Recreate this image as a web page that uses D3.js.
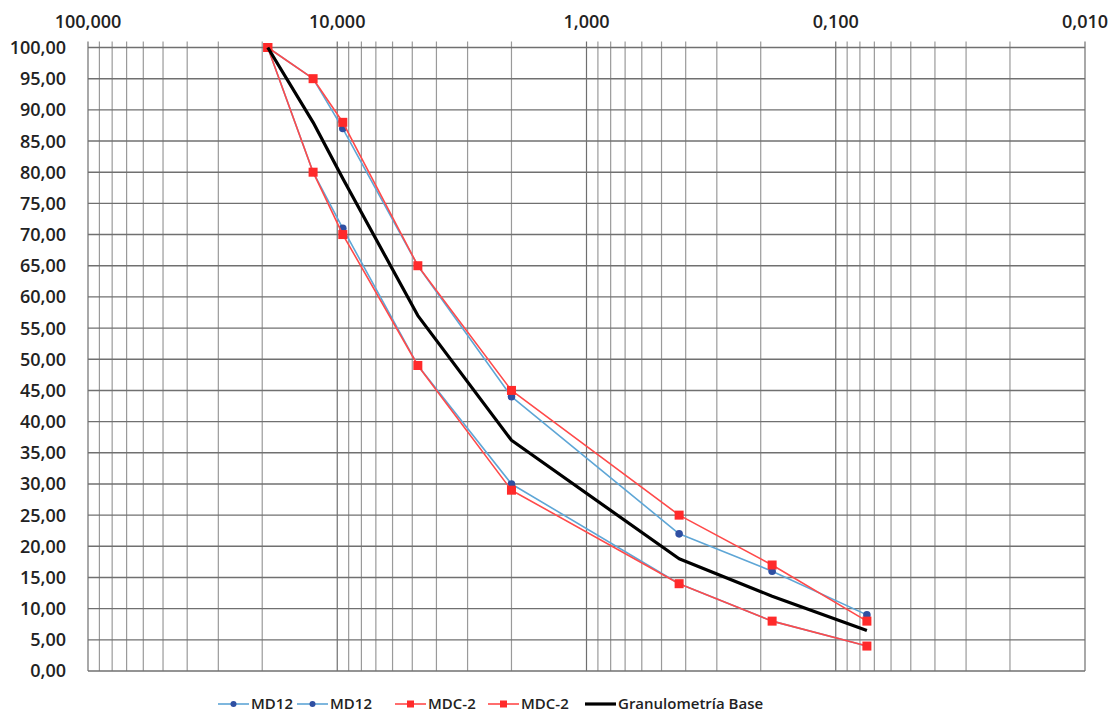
<!DOCTYPE html>
<html>
<head>
<meta charset="utf-8">
<script src="https://cdn.jsdelivr.net/npm/d3@7"></script>
<style>
  body { margin: 0; background: #ffffff; font-family: "Open Sans", sans-serif; }
</style>
</head>
<body>
<svg id="chart"></svg>
<script>
// sieve openings (mm)
const sizes = [19.0, 12.5, 9.5, 4.75, 2.0, 0.425, 0.18, 0.075];

// % passing
const md12Upper = [100, 95, 87, 65, 44, 22, 16, 9];
const md12Lower = [100, 80, 71, 49, 30, 14, 8, 4];
const mdcUpper = [100, 95, 88, 65, 45, 25, 17, 8];
const mdcLower = [100, 80, 70, 49, 29, 14, 8, 4];
const baseGrad = [100, 88, 79, 57, 37, 18, 12, 6.5];

const seriesNames = ["MD12", "MD12", "MDC-2", "MDC-2", "Granulometría Base"];
const xTickLabels = [100, 10, 1, 0.1, 0.01];
const yTicks = d3.range(0, 101, 5);

const W = 1117, H = 719;
const margin = { top: 47.5, right: 32, bottom: 48, left: 88 };

const svg = d3.select("#chart").attr("width", W).attr("height", H);

const locale = d3.formatLocale({ decimal: ",", thousands: ".", grouping: [3], currency: ["", ""] });
const fx = locale.format(".3f");
const fy = locale.format(".2f");

const x = d3.scaleLog().domain([100, 0.01]).range([margin.left, W - margin.right]);
const y = d3.scaleLinear().domain([0, 100]).range([H - margin.bottom, margin.top]);

// minor log grid: 1..9 of every decade
const gridX = [];
xTickLabels.slice(1).forEach(d => {
  for (let k = 1; k <= 9; k++) gridX.push(d * k);
});
gridX.push(100);

const grid = svg.append("g");
grid.selectAll("line.v")
  .data(gridX)
  .enter().append("line")
    .attr("x1", d => x(d)).attr("x2", d => x(d))
    .attr("y1", margin.top - 6).attr("y2", y(0))
    .attr("stroke", d => xTickLabels.some(t => Math.abs(t - d) < 1e-9) ? "#6f6f6f" : "#9a9a9a")
    .attr("stroke-width", 1.2);

grid.selectAll("line.h")
  .data(yTicks)
  .enter().append("line")
    .attr("x1", x(100)).attr("x2", x(0.01))
    .attr("y1", d => y(d)).attr("y2", d => y(d))
    .attr("stroke", "#707070")
    .attr("stroke-width", 1.4);

// top axis labels
svg.append("g").selectAll("text")
  .data(xTickLabels)
  .enter().append("text")
    .attr("x", d => x(d))
    .attr("y", 28)
    .attr("text-anchor", "middle")
    .attr("font-size", 18)
    .attr("font-weight", 600)
    .attr("fill", "#222")
    .text(d => fx(d));

// left axis labels
svg.append("g").selectAll("text")
  .data(yTicks)
  .enter().append("text")
    .attr("x", 66)
    .attr("y", d => y(d))
    .attr("dy", "0.36em")
    .attr("text-anchor", "end")
    .attr("font-size", 18)
    .attr("font-weight", 600)
    .attr("fill", "#222")
    .text(d => fy(d));

const blueLine = "#5ea6d6", blueDot = "#2f4fa2";
const redLine = "#ff4a4a", redDot = "#ff2a2a";

const series = [
  { name: seriesNames[0], values: md12Upper, line: blueLine, mark: "circle", fill: blueDot, w: 1.6 },
  { name: seriesNames[1], values: md12Lower, line: blueLine, mark: "circle", fill: blueDot, w: 1.6 },
  { name: seriesNames[2], values: mdcUpper, line: redLine, mark: "square", fill: redDot, w: 1.6 },
  { name: seriesNames[3], values: mdcLower, line: redLine, mark: "square", fill: redDot, w: 1.6 },
  { name: seriesNames[4], values: baseGrad, line: "#000", mark: null, fill: null, w: 3.2 }
];

const lineGen = d3.line().x(d => x(d[0])).y(d => y(d[1]));

series.forEach(s => {
  const pts = sizes.map((sz, i) => [sz, s.values[i]]);
  svg.append("path")
    .datum(pts)
    .attr("d", lineGen)
    .attr("fill", "none")
    .attr("stroke", s.line)
    .attr("stroke-width", s.w)
    .attr("stroke-linejoin", "round");
  if (s.mark === "circle") {
    svg.append("g").selectAll("circle")
      .data(pts).enter().append("circle")
        .attr("cx", d => x(d[0])).attr("cy", d => y(d[1]))
        .attr("r", 3.8).attr("fill", s.fill);
  } else if (s.mark === "square") {
    svg.append("g").selectAll("rect")
      .data(pts).enter().append("rect")
        .attr("x", d => x(d[0]) - 4.5).attr("y", d => y(d[1]) - 4.5)
        .attr("width", 9).attr("height", 9).attr("fill", s.fill);
  }
});

// legend
const legendX = [218, 297, 395, 488, 585];
const ly = 704;
const legend = svg.append("g");
series.forEach((s, i) => {
  const g = legend.append("g").attr("transform", `translate(${legendX[i]},${ly})`);
  g.append("line").attr("x1", 0).attr("x2", 31).attr("y1", 0).attr("y2", 0)
    .attr("stroke", s.line).attr("stroke-width", s.mark ? 1.6 : 3.2);
  if (s.mark === "circle") g.append("circle").attr("cx", 15.5).attr("cy", 0).attr("r", 3).attr("fill", s.fill);
  if (s.mark === "square") g.append("rect").attr("x", 12).attr("y", -3.5).attr("width", 7).attr("height", 7).attr("fill", s.fill);
  g.append("text").attr("x", 33).attr("y", 0).attr("dy", "0.36em")
    .attr("font-size", 15).attr("font-weight", 600).attr("fill", "#222")
    .text(s.name);
});
</script>
</body>
</html>
